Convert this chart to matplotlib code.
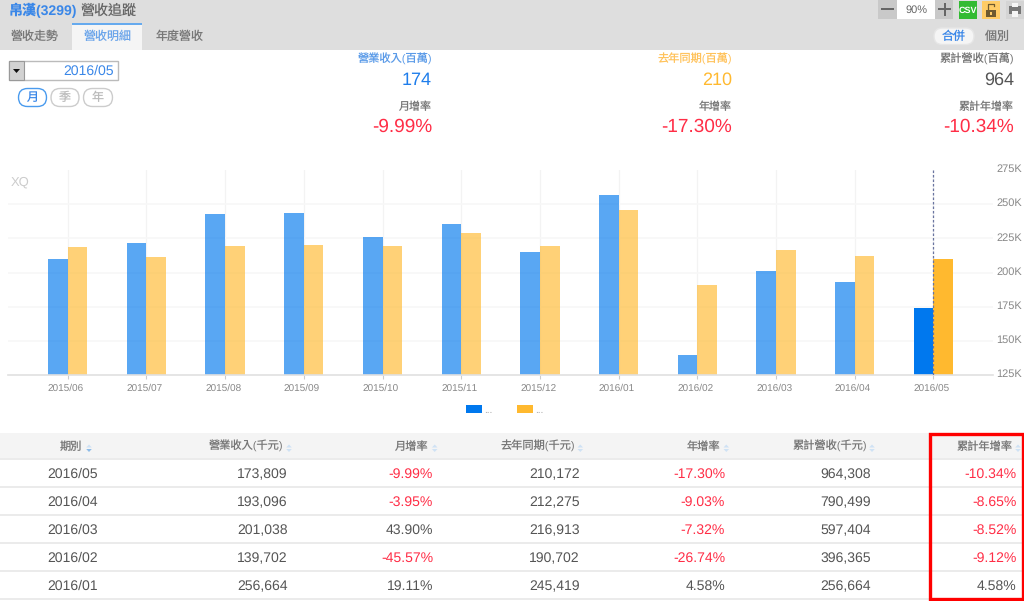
import matplotlib
matplotlib.use("Agg")
import matplotlib.pyplot as plt
from matplotlib.patches import Rectangle, FancyBboxPatch, Polygon

plt.rcParams['font.family'] = ['Liberation Sans', 'Noto Sans CJK TC', 'DejaVu Sans']
plt.rcParams['text.hinting'] = 'no_hinting'
plt.rcParams['text.hinting_factor'] = 1

months = ['2015/06','2015/07','2015/08','2015/09','2015/10','2015/11','2015/12',
          '2016/01','2016/02','2016/03','2016/04','2016/05']
revenue = [210.1,221.5,242.7,243.9,225.7,235.2,215.2,256.664,139.702,201.038,193.096,173.809]
last_year = [218.6,211.1,219.4,220.3,219.8,228.8,219.4,245.419,190.702,216.913,212.275,210.172]
y_ticks = [125,150,175,200,225,250,275]
y_tick_labels = ['125K','150K','175K','200K','225K','250K','275K']

table_headers = ['期別','營業收入(千元)','月增率','去年同期(千元)','年增率','累計營收(千元)','累計年增率']
periods = ['2016/05','2016/04','2016/03','2016/02','2016/01']
col_revenue = ['173,809','193,096','201,038','139,702','256,664']
col_mom = ['-9.99%','-3.95%','43.90%','-45.57%','19.11%']
col_last_year = ['210,172','212,275','216,913','190,702','245,419']
col_yoy = ['-17.30%','-9.03%','-7.32%','-26.74%','4.58%']
col_cum = ['964,308','790,499','597,404','396,365','256,664']
col_cum_yoy = ['-10.34%','-8.65%','-8.52%','-9.12%','4.58%']

W, H = 1024, 601
def pt(px):
    return px * 72 / 100

BLUE = '#0078EE'
ORANGE = '#FFB92F'
RED = '#FF2D46'
GRAY = '#555555'

fig = plt.figure(figsize=(W/100, H/100), dpi=100, facecolor='white')
ui = fig.add_axes([0, 0, 1, 1], zorder=0)
ui.set_xlim(0, W)
ui.set_ylim(H, 0)
ui.axis('off')

def T(x, y, s, px=12, c=GRAY, ha='left', **kw):
    ui.text(x, y + 0.36*px, s, fontsize=pt(px), color=c, ha=ha, va='baseline', **kw)

def R(x0, y0, x1, y1, fc, ec='none', lw=0, z=1):
    ui.add_patch(Rectangle((x0, y0), x1-x0, y1-y0, facecolor=fc, edgecolor=ec, linewidth=lw, zorder=z))

def pill(x0, y0, x1, y1, ec, fc='white', lw=1.0, z=2):
    r = (y1-y0)/2
    ui.add_patch(FancyBboxPatch((x0+r, y0+r), x1-x0-2*r, 0.01,
                 boxstyle=f'round,pad={r-0.01},rounding_size={r-0.01}',
                 facecolor=fc, edgecolor=ec, linewidth=lw, zorder=z))

# header band
R(0, 0, W, 50, '#DEDEDE')
T(9, 10, '帛漢(3299)', 14, '#3A87E8', fontweight='bold', zorder=3)
T(81, 10, '營收追蹤', 14, '#666666', zorder=3)

# tabs
R(72, 24, 141.5, 50, '#F5F5F5', z=2)
R(72, 23, 141.5, 25, '#66AAEE', z=3)
T(35, 36, '營收走勢', 12, '#777777', ha='center', zorder=3)
T(107.5, 36, '營收明細', 12, '#6BA5EA', ha='center', zorder=3)
T(180, 36, '年度營收', 12, '#777777', ha='center', zorder=3)

# top-right tools
R(878, 0, 897, 18.5, '#C9C9C9', z=2)
R(897, 0, 935, 19, 'white', z=2)
R(935, 0, 953, 18.5, '#C9C9C9', z=2)
R(881, 8, 894, 10, '#666666', z=3)
R(938, 8, 951, 10, '#666666', z=3)
R(943.7, 2.5, 945.7, 15.5, '#666666', z=3)
T(916, 9, '90%', 11.5, '#666666', ha='center', zorder=3)
R(959, 1, 977, 18.5, '#33BB33', z=2)
T(968, 9.5, 'CSV', 9.5, 'white', ha='center', fontweight='bold', zorder=3)
R(982, 1, 1000, 18.5, '#FFCC66', z=2)
R(986, 9.5, 996, 16.5, '#6E5A30', z=3)
R(990, 11.5, 992, 14.5, '#FFCC66', z=4)
ui.plot([988, 988, 994, 994], [9.5, 4, 4, 6], color='#6E5A30', lw=0.9, zorder=3)
R(1006, 1, W, 18.5, '#D4D4D4', z=2)
R(1009, 6, 1021, 14, '#777777', z=3)
R(1012, 3, 1018, 7, '#F5F5F5', z=4)
R(1012, 11, 1018, 17, '#F5F5F5', z=4)
pill(934, 28, 974, 44.5, '#E6E6E6', '#F5F5F5', 1.0)
T(954, 36, '合併', 12, '#3A87E8', ha='center', zorder=3)
T(997, 36, '個別', 12, '#777777', ha='center', zorder=3)

# date selector
R(8.5, 60.5, 117.5, 80, 'white', '#BBBBBB', 1.0, z=2)
R(9, 61, 23.5, 79.5, '#D2D2D2', '#999999', 0.8, z=3)
ui.add_patch(Polygon([[13, 69], [20, 69], [16.5, 73]], closed=True, facecolor='#111111', edgecolor='none', zorder=4))
T(114, 70, periods[0], 14, '#3A87E8', ha='right', zorder=3)
pill(18.5, 88.5, 46.5, 106.5, '#4A9BEE', lw=1.0)
pill(51, 88.5, 79, 106.5, '#CCCCCC', lw=1.0)
pill(83.5, 88.5, 112.5, 106.5, '#CCCCCC', lw=1.0)
T(32.5, 97, '月', 12, '#3A87E8', ha='center', zorder=3)
T(65, 97, '季', 12, '#BBBBBB', ha='center', zorder=3)
T(98, 97, '年', 12, '#BBBBBB', ha='center', zorder=3)

# summary figures
T(432, 59, '營業收入(百萬)', 11.2, '#5B9BE8', ha='right')
T(432, 78, '174', 18.5, '#1E7DEB', ha='right')
T(432, 106, '月增率', 11, '#777777', ha='right')
T(432, 125, col_mom[0], 19, RED, ha='right')
T(732, 59, '去年同期(百萬)', 11.2, '#FFC25A', ha='right')
T(732, 78, '210', 18.5, '#FFB92F', ha='right')
T(732, 106, '年增率', 11, '#777777', ha='right')
T(732, 125, col_yoy[0], 19, RED, ha='right')
T(1014, 59, '累計營收(百萬)', 11.2, '#777777', ha='right')
T(1014, 78, '964', 18.5, '#555555', ha='right')
T(1014, 106, '累計年增率', 11, '#777777', ha='right')
T(1014, 125, col_cum_yoy[0], 19, RED, ha='right')

# chart
x_left, x_right, y_top, y_base = 8, 993, 170, 375.3
first_tick, step = 67.7, 78.7
ax = fig.add_axes([x_left/W, 1-y_base/H, (x_right-x_left)/W, (y_base-y_top)/H], zorder=1)
ax.patch.set_alpha(0)
ax.set_xlim((x_left-first_tick)/step, (x_right-first_tick)/step)
ax.set_ylim(125, 275)
for s in ['top', 'left', 'right']:
    ax.spines[s].set_visible(False)
ax.spines['bottom'].set_color('#E0E0E0')
ax.spines['bottom'].set_linewidth(1.2)
ax.set_axisbelow(True)
ax.set_yticks(y_ticks[1:-1])
ax.yaxis.grid(True, color='#F7F7F7', lw=1.2)
ax.xaxis.grid(True, color='#F3F3F3', lw=0.9)
positions = list(range(len(months)))
ax.set_xticks(positions)
ax.set_xticklabels([])
ax.tick_params(axis='x', length=3, width=0.8, color='#CCCCCC')
ax.tick_params(axis='y', length=0, labelleft=False)
w = 0.25
for i in positions:
    last = i == positions[-1]
    a = 1.0 if last else 0.65
    ax.bar(i - w/2, revenue[i], w, bottom=0, color=BLUE, alpha=a, linewidth=0, zorder=2)
    ax.bar(i + w/2, last_year[i], w, bottom=0, color=ORANGE, alpha=a, linewidth=0, zorder=2)
ax.axvline(positions[-1], color='#6A75A0', lw=0.9, ls=(0, (2, 1.6)), zorder=3)

for i, m in enumerate(months):
    T(first_tick + step*i - 1.8, 387.5, m, 10, '#888888', ha='center')
for v, lab in zip(y_ticks, y_tick_labels):
    ypx = y_base - (v-125)*(y_base-y_top)/150
    T(996.5, ypx - 1.8, lab, 10.6, '#888888')
T(11, 181, 'XQ', 12.5, '#CCCCCC')

# legend
R(466, 405.3, 482, 413, BLUE)
T(484, 409.5, '...', 10, '#AAAAAA')
R(516.7, 405.3, 532.5, 413, ORANGE)
T(535, 409.5, '...', 10, '#AAAAAA')

# table
R(0, 433, W, 458, '#F4F4F4')
R(0, 458, W, 459.5, '#EBEBEB')
right_edges = [None, 288, 433, 579.7, 725, 871, 1016.3]
header_right = [None, 283.7, 429, 575.3, 720.7, 867, 1012.7]
icon_x = [89, 289, 434.7, 580.3, 726.3, 872, 1018]
T(71.5, 446, table_headers[0], 11.2, '#777777', ha='center')
for j in range(1, 7):
    T(header_right[j], 446, table_headers[j], 11.2, '#777777', ha='right')
for j, ix in enumerate(icon_x):
    down = '#8DBBE8' if j == 0 else '#CFE2F4'
    ui.add_patch(Polygon([[ix-2.8, 447.5], [ix+2.8, 447.5], [ix, 444.5]], closed=True, facecolor='#CFE2F4', edgecolor='none', zorder=3))
    ui.add_patch(Polygon([[ix-2.8, 449], [ix+2.8, 449], [ix, 452]], closed=True, facecolor=down, edgecolor='none', zorder=3))

columns = [col_revenue, col_mom, col_last_year, col_yoy, col_cum, col_cum_yoy]
row_y = [473, 501, 529, 557, 585]
for r, y in enumerate(row_y):
    T(73, y, periods[r], 14, GRAY, ha='center')
    for j, col in enumerate(columns, start=1):
        v = col[r]
        c = RED if v.startswith('-') else GRAY
        T(right_edges[j], y, v, 14, c, ha='right')
    R(0, y+13.3, W, y+14.9, '#EBEBEB')

# highlight frame
ui.add_patch(Rectangle((929.7, 433.8), 92.8, 165.6, facecolor='none', edgecolor='#FF0000', linewidth=2.4, zorder=6))

fig.savefig('out.png', dpi=100, facecolor='white')
